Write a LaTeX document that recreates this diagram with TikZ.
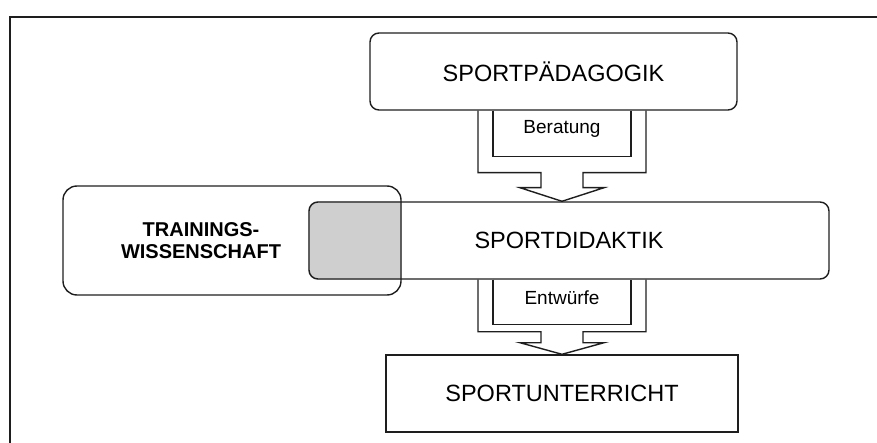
\documentclass[tikz,border=0pt]{standalone}
\usepackage{fontspec}
\setmainfont{Liberation Sans}
\usetikzlibrary{calc,backgrounds}
\definecolor{ink}{HTML}{1E1E1E}
\definecolor{overlapgray}{HTML}{CFCFCF}
\tikzset{
  box/.style={draw=ink, line width=1.4pt, rectangle, inner sep=0pt, font=\fontsize{23.5}{27}\selectfont},
  roundbox/.style={box, rounded corners=9pt},
  blockarrow/.style={draw=ink, line width=1.4pt, line join=miter},
  lbl/.style={inner sep=0pt, font=\fontsize{19}{22}\selectfont}
}
\begin{document}
\begin{tikzpicture}[x=1pt,y=-1pt]
\useasboundingbox (0,0) rectangle (877,443);
% outer frame
\draw[ink, line width=2pt] (10,443) -- (10,17) -- (877,17);

\node[roundbox, minimum width=367pt, minimum height=77pt] (ped) at (553.5,71.5) {SPORTPÄDAGOGIK};
\node[box, rounded corners=14pt, minimum width=338pt, minimum height=109pt, align=center,
      font=\bfseries\fontsize{20}{22.5}\selectfont] (tw) at (232,240.5) {\hspace*{-62pt}TRAININGS-\\\hspace*{-62pt}WISSENSCHAFT};
\node[roundbox, minimum width=520pt, minimum height=77pt] (did) at (569,240.5) {SPORTDIDAKTIK};
\node[box, minimum width=352pt, minimum height=77pt] (unt) at (562,393.5) {SPORTUNTERRICHT};

\begin{scope}[on background layer]
  \clip[rounded corners=14pt] (tw.north west) rectangle (tw.south east);
  \fill[overlapgray, rounded corners=9pt] (did.north west) rectangle (did.south east);
\end{scope}

% arrow 1
\coordinate (a1) at (ped.south -| 562,0);
\draw[blockarrow] ($(a1)+(-84,0)$) -- ++(0,62) -- ($(a1)+(-21,62)$) -- ++(0,15) -- ($(a1)+(-42,77)$)
  -- (did.north -| a1) -- ($(a1)+(42,77)$) -- ($(a1)+(21,77)$) -- ++(0,-15) -- ($(a1)+(84,62)$) -- ++(0,-62);
\draw[blockarrow] ($(a1)+(-69,0)$) -- ++(0,46) -- ($(a1)+(69,46)$) -- ++(0,-46);
\node[lbl] (ber) at (562,129) {Beratung};

% arrow 2
\coordinate (a2) at (did.south -| 562,0);
\draw[blockarrow] ($(a2)+(-84,0)$) -- ++(0,52) -- ($(a2)+(-21,52)$) -- ++(0,11) -- ($(a2)+(-42,63)$)
  -- (unt.north -| a2) -- ($(a2)+(42,63)$) -- ($(a2)+(21,63)$) -- ++(0,-11) -- ($(a2)+(84,52)$) -- ++(0,-52);
\draw[blockarrow] ($(a2)+(-69,0)$) -- ++(0,45) -- ($(a2)+(69,45)$) -- ++(0,-45);
\node[lbl] (ent) at (562,298) {Entwürfe};
\end{tikzpicture}
\end{document}
